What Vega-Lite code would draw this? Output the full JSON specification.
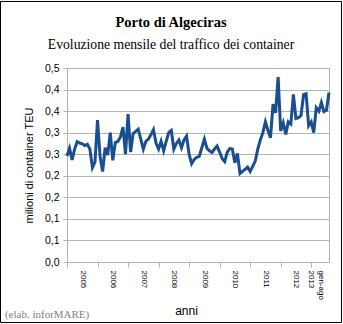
{
  "$schema": "https://vega.github.io/schema/vega-lite/v6.json",
  "width": 262,
  "height": 194,
  "padding": 0,
  "background": "white",
  "title": {
    "text": "Porto di Algeciras",
    "subtitle": "Evoluzione mensile del traffico dei container",
    "font": "Liberation Serif",
    "fontSize": 14.5,
    "fontWeight": "bold",
    "color": "black",
    "subtitleFont": "Liberation Serif",
    "subtitleFontSize": 13.7,
    "subtitleColor": "black",
    "subtitlePadding": 8,
    "anchor": "middle",
    "frame": "bounds",
    "offset": -52
  },
  "config": {
    "view": {"stroke": "#b3b3b3", "strokeWidth": 1},
    "font": "Liberation Sans",
    "axis": {"labelOverlap": false, "labelBound": false, "labelFlush": false}
  },
  "resolve": {"axis": {"x": "independent", "y": "independent"}},
  "layer": [
    {
      "data": {
        "values": [
          {"m": 0, "teu": 0.246}, {"m": 1, "teu": 0.264}, {"m": 2, "teu": 0.237}, {"m": 3, "teu": 0.262},
          {"m": 4, "teu": 0.279}, {"m": 5, "teu": 0.276}, {"m": 6, "teu": 0.274}, {"m": 7, "teu": 0.270},
          {"m": 8, "teu": 0.273}, {"m": 9, "teu": 0.262}, {"m": 10, "teu": 0.219}, {"m": 11, "teu": 0.232},
          {"m": 12, "teu": 0.329}, {"m": 13, "teu": 0.245}, {"m": 14, "teu": 0.210}, {"m": 15, "teu": 0.265},
          {"m": 16, "teu": 0.248}, {"m": 17, "teu": 0.300}, {"m": 18, "teu": 0.236}, {"m": 19, "teu": 0.277},
          {"m": 20, "teu": 0.280}, {"m": 21, "teu": 0.290}, {"m": 22, "teu": 0.313}, {"m": 23, "teu": 0.250},
          {"m": 24, "teu": 0.343}, {"m": 25, "teu": 0.255}, {"m": 26, "teu": 0.298}, {"m": 27, "teu": 0.303},
          {"m": 28, "teu": 0.308}, {"m": 29, "teu": 0.285}, {"m": 30, "teu": 0.262}, {"m": 31, "teu": 0.280},
          {"m": 32, "teu": 0.285}, {"m": 33, "teu": 0.295}, {"m": 34, "teu": 0.307}, {"m": 35, "teu": 0.276},
          {"m": 36, "teu": 0.262}, {"m": 37, "teu": 0.280}, {"m": 38, "teu": 0.258}, {"m": 39, "teu": 0.280},
          {"m": 40, "teu": 0.300}, {"m": 41, "teu": 0.305}, {"m": 42, "teu": 0.262}, {"m": 43, "teu": 0.275},
          {"m": 44, "teu": 0.283}, {"m": 45, "teu": 0.265}, {"m": 46, "teu": 0.283}, {"m": 47, "teu": 0.292},
          {"m": 48, "teu": 0.250}, {"m": 49, "teu": 0.228}, {"m": 50, "teu": 0.238}, {"m": 51, "teu": 0.243},
          {"m": 52, "teu": 0.245}, {"m": 53, "teu": 0.265}, {"m": 54, "teu": 0.285}, {"m": 55, "teu": 0.264},
          {"m": 56, "teu": 0.258}, {"m": 57, "teu": 0.254}, {"m": 58, "teu": 0.262}, {"m": 59, "teu": 0.269},
          {"m": 60, "teu": 0.255}, {"m": 61, "teu": 0.240}, {"m": 62, "teu": 0.233}, {"m": 63, "teu": 0.255},
          {"m": 64, "teu": 0.263}, {"m": 65, "teu": 0.262}, {"m": 66, "teu": 0.230}, {"m": 67, "teu": 0.252},
          {"m": 68, "teu": 0.205}, {"m": 69, "teu": 0.210}, {"m": 70, "teu": 0.215}, {"m": 71, "teu": 0.220},
          {"m": 72, "teu": 0.210}, {"m": 73, "teu": 0.222}, {"m": 74, "teu": 0.234}, {"m": 75, "teu": 0.262},
          {"m": 76, "teu": 0.283}, {"m": 77, "teu": 0.300}, {"m": 78, "teu": 0.325}, {"m": 79, "teu": 0.305},
          {"m": 80, "teu": 0.288}, {"m": 81, "teu": 0.366}, {"m": 82, "teu": 0.346}, {"m": 83, "teu": 0.429},
          {"m": 84, "teu": 0.304}, {"m": 85, "teu": 0.323}, {"m": 86, "teu": 0.296}, {"m": 87, "teu": 0.325},
          {"m": 88, "teu": 0.320}, {"m": 89, "teu": 0.389}, {"m": 90, "teu": 0.333}, {"m": 91, "teu": 0.335},
          {"m": 92, "teu": 0.340}, {"m": 93, "teu": 0.388}, {"m": 94, "teu": 0.390}, {"m": 95, "teu": 0.316},
          {"m": 96, "teu": 0.325}, {"m": 97, "teu": 0.300}, {"m": 98, "teu": 0.358}, {"m": 99, "teu": 0.350},
          {"m": 100, "teu": 0.370}, {"m": 101, "teu": 0.349}, {"m": 102, "teu": 0.352}, {"m": 103, "teu": 0.393}
        ]
      },
      "mark": {"type": "line", "color": "#1a4f8f", "strokeWidth": 3, "clip": false},
      "encoding": {
        "x": {
          "field": "m",
          "type": "quantitative",
          "scale": {"domain": [0, 103], "nice": false, "zero": false},
          "axis": {
            "values": [0, 12, 24, 36, 48, 60, 72, 84, 96],
            "labelExpr": "datum.value == 96 ? ['gen-ago', '2013'] : '' + (2005 + datum.value / 12)",
            "labelAngle": 90,
            "labelOffset": {"condition": {"test": "datum.value == 96", "value": 9}, "value": 15},
            "labelFontSize": 8,
            "labelColor": "black",
            "labelPadding": 3,
            "labelFlush": false,
            "labelOverlap": false,
            "labelBound": false,
            "grid": false,
            "domainColor": "#b3b3b3",
            "tickColor": "#b3b3b3",
            "tickSize": 5,
            "title": "anni",
            "titleFontSize": 12,
            "titleFontWeight": "normal",
            "titleColor": "black",
            "titlePadding": 6,
            "titleX": 119
          }
        },
        "y": {
          "field": "teu",
          "type": "quantitative",
          "scale": {"domain": [0, 0.45], "nice": false, "zero": false},
          "axis": {
            "values": [0, 0.05, 0.1, 0.15, 0.2, 0.25, 0.3, 0.35, 0.4, 0.45],
            "labelExpr": "replace(format(datum.value + 1e-9, '.1f'), '.', ',')",
            "labelFontSize": 10.5,
            "labelColor": "black",
            "labelPadding": 4,
            "labelOverlap": false,
            "grid": true,
            "gridColor": "#b3b3b3",
            "domainColor": "#b3b3b3",
            "tickColor": "#b3b3b3",
            "tickSize": 4,
            "title": "milioni di container TEU",
            "titleFontSize": 11,
            "titleFontWeight": "normal",
            "titleColor": "black",
            "titlePadding": 10
          }
        }
      }
    },
    {
      "data": {"values": [{}]},
      "mark": {"type": "rect", "fill": null, "fillOpacity": 0, "stroke": "black", "strokeWidth": 1, "clip": false},
      "encoding": {
        "x": {"datum": -26.14, "type": "quantitative", "axis": null},
        "x2": {"datum": 107.91},
        "y": {"datum": -0.1403, "type": "quantitative", "axis": null},
        "y2": {"datum": 0.6043}
      }
    },
    {
      "data": {"values": [{"t": "(elab. inforMARE)"}]},
      "mark": {"type": "text", "align": "left", "baseline": "alphabetic", "font": "Liberation Serif", "fontSize": 11, "color": "#808080", "clip": false},
      "encoding": {
        "x": {"datum": -24.4, "type": "quantitative", "axis": null},
        "y": {"datum": -0.13, "type": "quantitative", "axis": null},
        "text": {"field": "t"}
      }
    }
  ]
}
